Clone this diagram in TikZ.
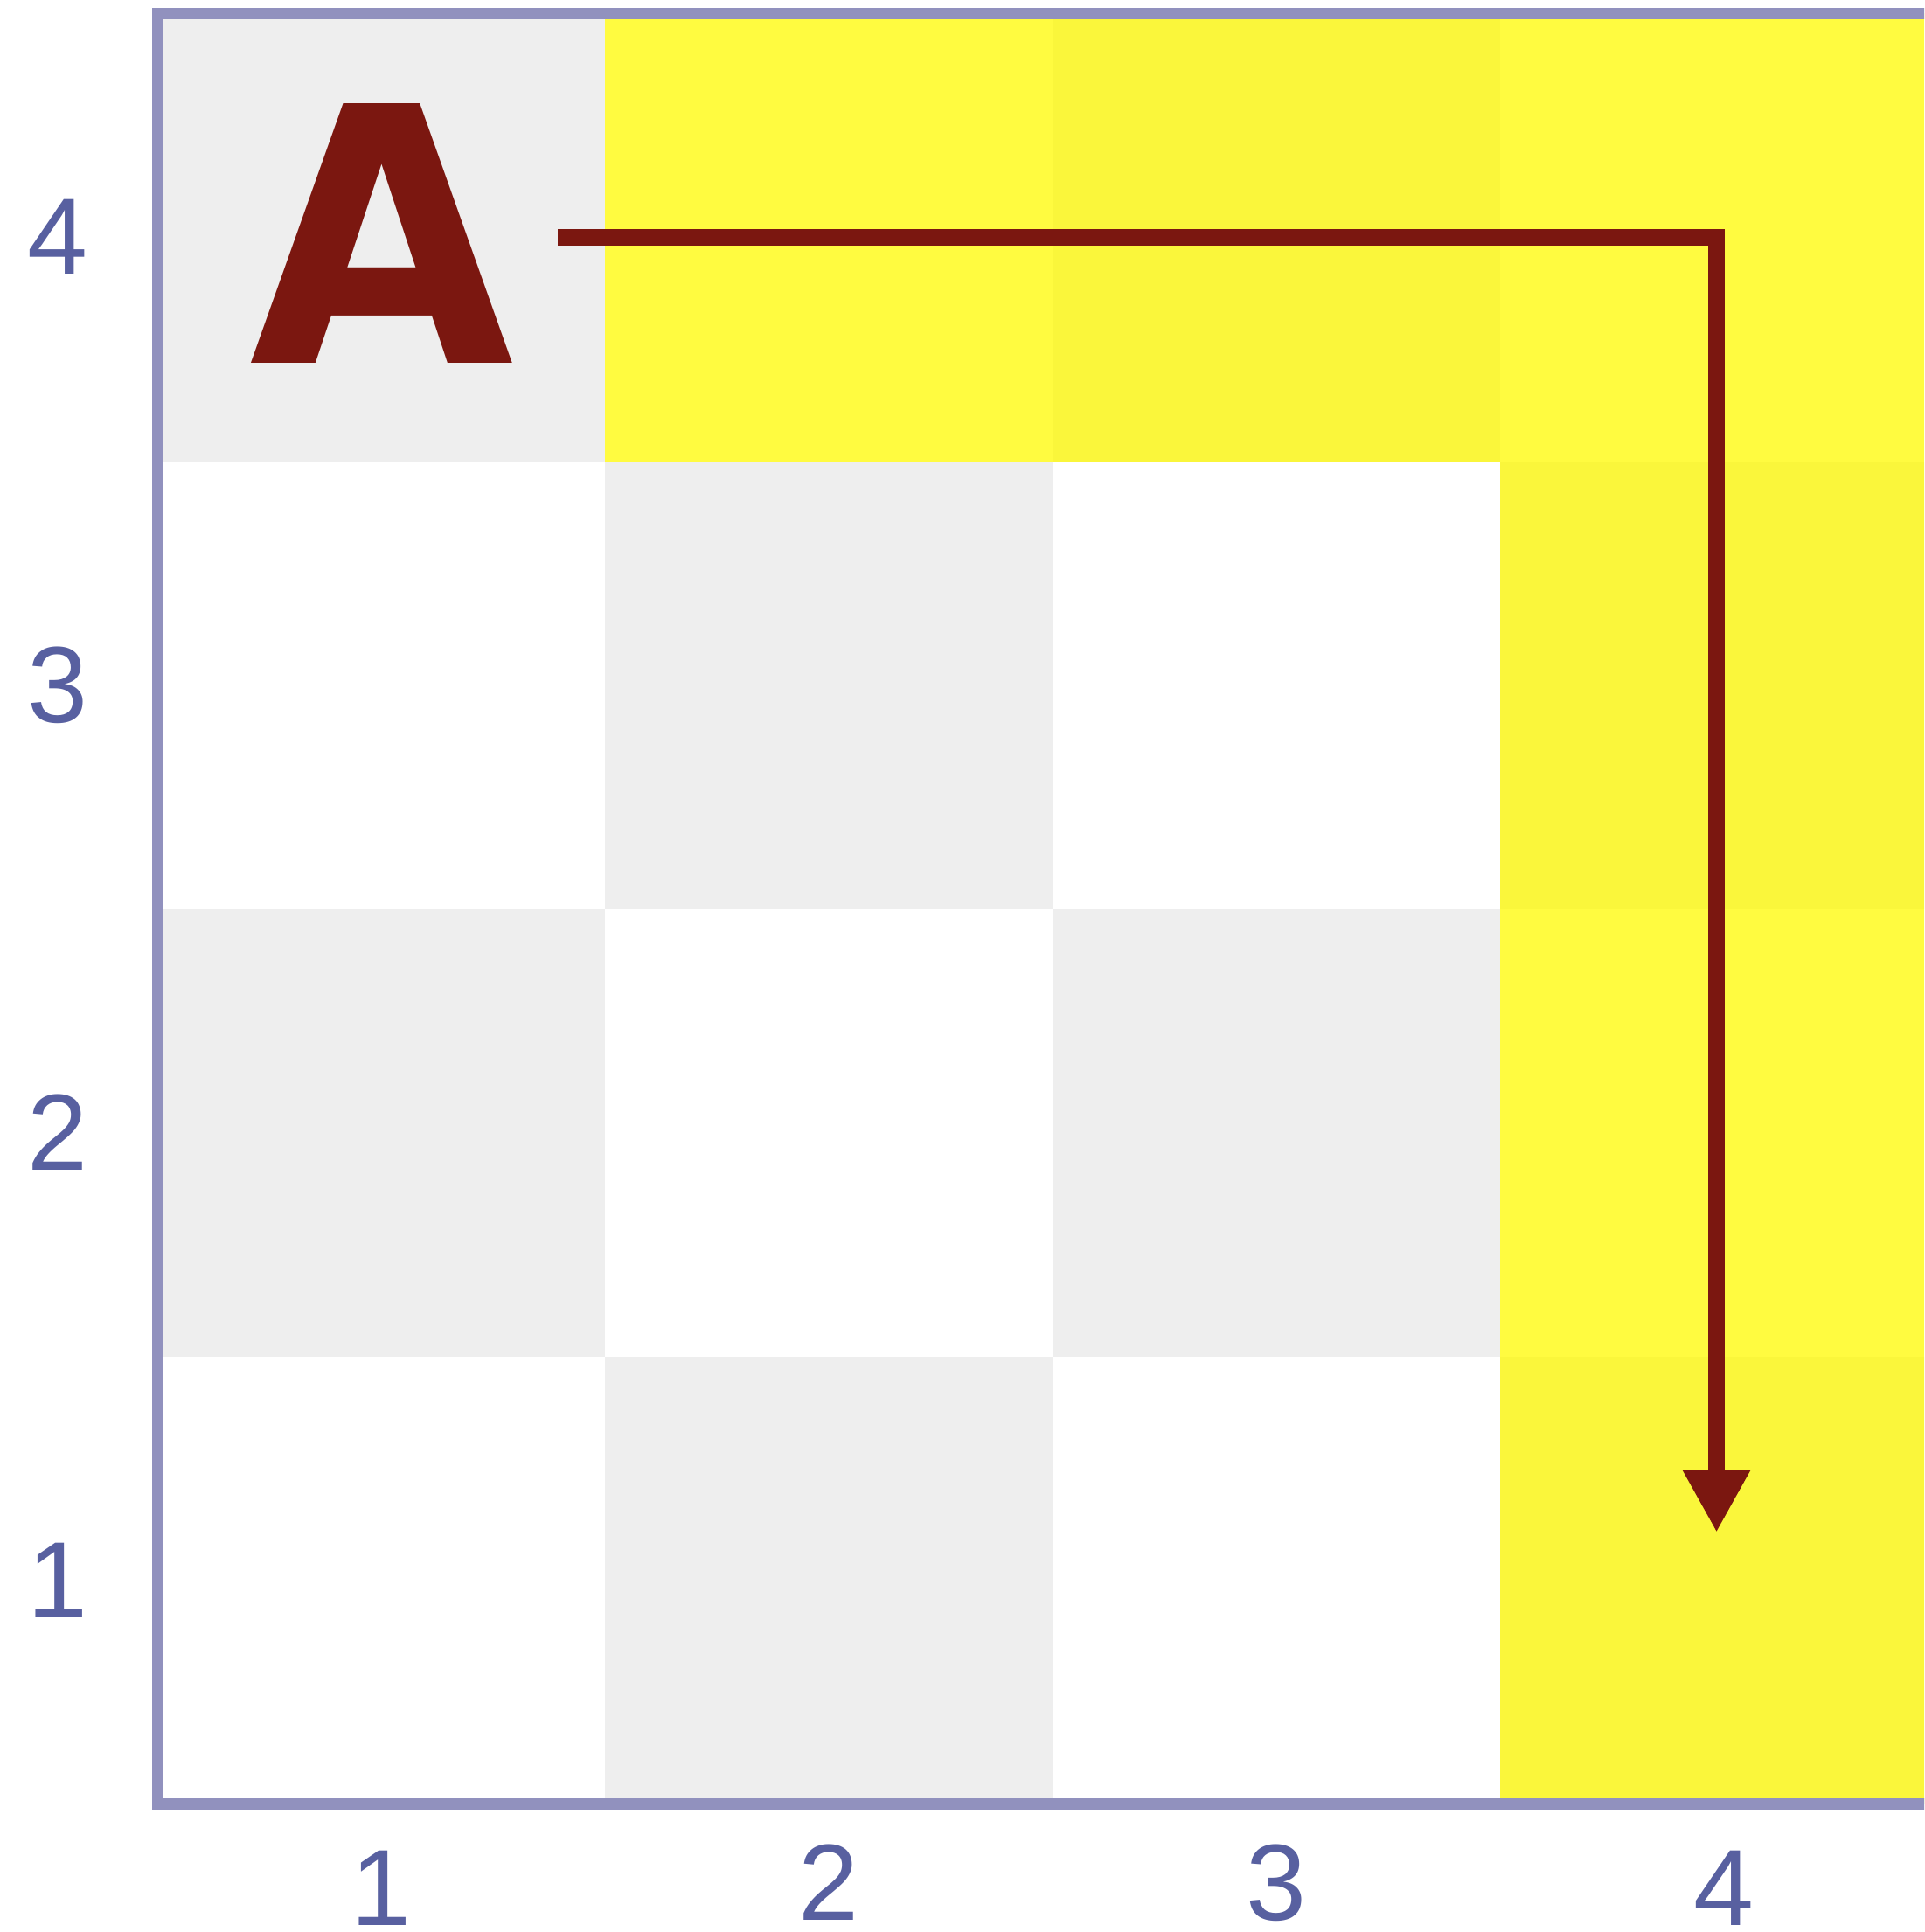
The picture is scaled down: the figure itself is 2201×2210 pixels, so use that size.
\documentclass[tikz,border=0pt]{standalone}
\usepackage{fontspec}
\setmainfont{Liberation Sans}
\newfontfamily\letterfont{DejaVu Sans}
\usetikzlibrary{arrows.meta}
\definecolor{cellgray}{RGB}{238,238,238}
\definecolor{hl}{RGB}{255,250,0}
\definecolor{framec}{RGB}{145,145,190}
\definecolor{lab}{RGB}{88,96,160}
\definecolor{dred}{RGB}{123,23,16}
\tikzset{
  lbl/.style={text=lab, font=\fontsize{62}{70}\selectfont, inner sep=0pt, anchor=base},
  bigA/.style={text=dred, font=\letterfont\bfseries\fontsize{203.7}{220}\selectfont, inner sep=0pt, anchor=base},
  patharrow/.style={draw=dred, line width=9.25pt, line join=miter, -{Triangle[length=36pt,width=36.5pt]}},
  gridframe/.style={draw=framec, line width=6.5pt},
  graycell/.style={fill=cellgray},
  hlcell/.style={fill=hl, fill opacity=0.75},
}
\begin{document}
\begin{tikzpicture}[x=0.5pt,y=-0.5pt]
\clip (0,0) rectangle (2201,2210);
\fill[white] (0,0) rectangle (2201,2210);
% checkerboard
\foreach \c in {1,...,4}{
  \foreach \r in {1,...,4}{
    \ifodd\numexpr\c+\r\relax
      \fill[graycell] ({180+(\c-1)*512},{2063.5-\r*512}) rectangle ({180+\c*512},{2063.5-(\r-1)*512});
    \fi
  }
}
% highlighted path cells
\foreach \c/\r in {2/4,3/4,4/4,4/3,4/2,4/1}{
  \fill[hlcell] ({180+(\c-1)*512},{2063.5-\r*512}) rectangle ({180+\c*512},{2063.5-(\r-1)*512});
}
% frame
\draw[gridframe] (180,15.5) rectangle (2228,2063.5);
% row labels
\node[lbl] (r4) at (66,314) {4};
\node[lbl] (r3) at (66,826) {3};
\node[lbl] (r2) at (66,1338) {2};
\node[lbl] (r1) at (66,1850) {1};
% column labels
\node[lbl] (c1) at (436,2202) {1};
\node[lbl] (c2) at (948,2196) {2};
\node[lbl] (c3) at (1460,2196) {3};
\node[lbl] (c4) at (1972,2202) {4};
% start letter
\node[bigA] (A) at (437,415) {\scalebox{0.96}[1]{A}};
% path arrow
\coordinate (pstart) at (638,271.5);
\coordinate (pend) at (1963.5,1753);
\draw[patharrow] (pstart) -| (pend);
\end{tikzpicture}
\end{document}
